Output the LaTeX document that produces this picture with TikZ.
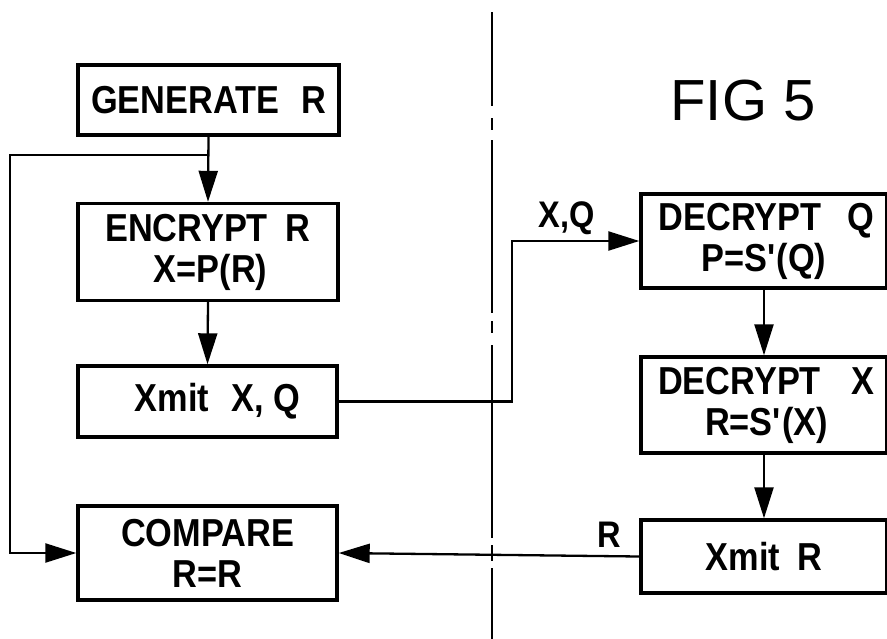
\documentclass[tikz,border=0pt]{standalone}
\usepackage{fontspec}
\setmainfont{Liberation Sans}
\newfontfamily\narrowfont{Liberation Sans}[FakeStretch=0.88]
\usetikzlibrary{arrows.meta}
\begin{document}
\begin{tikzpicture}[x=1pt,y=-1pt,
  box/.style={draw, line width=3.4pt, inner sep=0pt, align=center,
    font=\narrowfont\bfseries\fontsize{39}{41}\selectfont},
  conn/.style={line width=2.3pt},
  arr/.style={conn, -{Triangle[length=31pt,width=19pt]}},
  lbl/.style={font=\narrowfont\bfseries\fontsize{37}{38}\selectfont, inner sep=0pt},
  divider/.style={line width=2.6pt, dash pattern=on 94pt off 12pt on 12pt off 10pt on 173pt off 8pt on 12pt off 12pt on 193pt off 7pt on 16pt off 7pt on 90pt}]
\useasboundingbox (0,0) rectangle (887,638);
% divider
\coordinate (dtop) at (492,12);
\coordinate (dbot) at (492,640);
\draw[divider] (dtop) -- (dbot);
% title
\node[font=\fontsize{58}{60}\selectfont, inner sep=0pt] (fig) at (743,101) {FIG 5};
% boxes
\node[box, minimum width=261pt, minimum height=70pt] (gen) at (208.5,100) {GENERATE\hspace{22pt}R};
\node[box, minimum width=260pt, minimum height=97pt] (enc) at (208,252) {ENCRYPT\hspace{18pt}R\\\hspace*{5pt}X=P(R)};
\node[box, minimum width=259pt, minimum height=71pt] (xmit) at (207.5,401.5) {\hspace*{20pt}Xmit\hspace{22pt}X, Q};
\node[box, minimum width=259pt, minimum height=94pt] (cmp) at (207.5,553) {COMPARE\\R=R};
\node[box, minimum width=246pt, minimum height=94pt] (decq) at (764,241) {\hspace*{5pt}DECRYPT\hspace{26pt}Q\\P=S\textquotesingle(Q)};
\node[box, minimum width=246pt, minimum height=96pt] (decx) at (764,405) {\hspace*{5pt}DECRYPT\hspace{31pt}X\\\hspace*{5pt}R=S\textquotesingle(X)};
\node[box, minimum width=246pt, minimum height=73pt] (xmr) at (764,556.5) {Xmit\hspace{17pt}R};
% labels
\node[lbl] (lxq) at (567,218) {X,Q};
\node[lbl] (lr) at (609,535) {R};
% connectors
\draw[arr] (gen.south) -- (enc.north);
\coordinate (j) at (gen.south |- 0,155);
\coordinate (lc) at (10,155);
\draw[arr] (j) -- (lc) |- (cmp.west);
\draw[arr] (enc.south) -- (xmit.north);
\coordinate (bend) at (512,241);
\draw[arr] (xmit.east) -| (bend) -- (decq.west);
\draw[arr] (decq.south) -- (decx.north);
\draw[arr] (decx.south) -- (xmr.north);
\draw[arr] (xmr.west) -- (cmp.east);
\end{tikzpicture}
\end{document}
